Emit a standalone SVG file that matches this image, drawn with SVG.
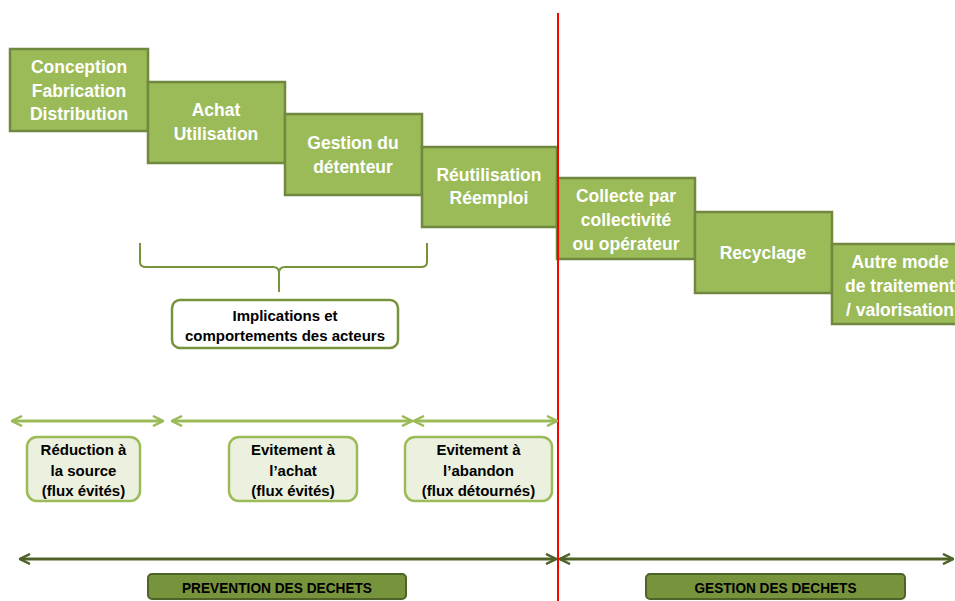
<svg xmlns="http://www.w3.org/2000/svg" width="955" height="601" viewBox="0 0 955 601">
<defs>
<style>
.step rect{fill:#9BBB59;stroke:#71893F;stroke-width:2.5}
.step text{fill:#fff;font-family:"Liberation Sans",Arial,sans-serif;font-weight:bold;font-size:17.5px;text-anchor:middle}
.act rect{fill:#EBF1DE;stroke:#9BBB59;stroke-width:2.5}
.act text,.impl text{fill:#000;font-family:"Liberation Sans",Arial,sans-serif;font-weight:bold;font-size:15px;text-anchor:middle}
.impl rect{fill:#fff;stroke:#77933C;stroke-width:2.5}
.cat rect{fill:#77933C;stroke:#4F6228;stroke-width:2}
.cat text{fill:#000;font-family:"Liberation Sans",Arial,sans-serif;font-weight:bold;font-size:15px;text-anchor:middle}
.lg{stroke:#9BBB59;stroke-width:3;fill:none}
.dg{stroke:#4F6228;stroke-width:3;fill:none}
</style>
<marker id="hl" viewBox="0 0 12 12" refX="11" refY="6" markerWidth="12" markerHeight="12" markerUnits="userSpaceOnUse" orient="auto-start-reverse">
<path d="M1,1 L11,6 L1,11" fill="none" stroke="#9BBB59" stroke-width="2.5"/>
</marker>
<marker id="hd" viewBox="0 0 12 12" refX="11" refY="6" markerWidth="12" markerHeight="12" markerUnits="userSpaceOnUse" orient="auto-start-reverse">
<path d="M1,1 L11,6 L1,11" fill="none" stroke="#4F6228" stroke-width="2.5"/>
</marker>
</defs>
<rect width="955" height="601" fill="#fff"/>

<g id="s1" class="step"><rect x="10" y="49" width="138" height="82"/>
<text x="79" y="73">Conception</text><text x="79" y="97">Fabrication</text><text x="79" y="120">Distribution</text></g>
<g id="s2" class="step"><rect x="148" y="82" width="137" height="81"/>
<text x="216" y="116">Achat</text><text x="216" y="140">Utilisation</text></g>
<g id="s3" class="step"><rect x="285" y="114" width="137" height="81"/>
<text x="353" y="149">Gestion du</text><text x="353" y="173">détenteur</text></g>
<g id="s4" class="step"><rect x="422" y="147" width="135" height="80"/>
<text x="489" y="181">Réutilisation</text><text x="489" y="204">Réemploi</text></g>
<g id="s5" class="step"><rect x="557" y="178" width="138" height="81"/>
<text x="626" y="202">Collecte par</text><text x="626" y="226">collectivité</text><text x="626" y="250">ou opérateur</text></g>
<g id="s6" class="step"><rect x="695" y="212" width="137" height="81"/>
<text x="763" y="259">Recyclage</text></g>
<g id="s7" class="step"><rect x="832" y="244" width="137" height="80"/>
<text x="900" y="268">Autre mode</text><text x="900" y="292">de traitement</text><text x="900" y="316">/ valorisation</text></g>

<g id="connectors">
<line x1="558" y1="13" x2="558" y2="601" stroke="#FF0000" stroke-width="2"/>
<path d="M140,243 L140,262 Q140,267 146,267 L273,267 Q279,267 279,273 L279,292 M279,273 Q279,267 285,267 L421,267 Q427,267 427,262 L427,243" stroke="#77933C" stroke-width="2" fill="none"/>
<line class="lg" x1="12" y1="421" x2="163" y2="421" marker-start="url(#hl)" marker-end="url(#hl)"/>
<line class="lg" x1="172" y1="421" x2="412" y2="421" marker-start="url(#hl)" marker-end="url(#hl)"/>
<line class="lg" x1="414" y1="421" x2="557" y2="421" marker-start="url(#hl)" marker-end="url(#hl)"/>
<line class="dg" x1="20" y1="559" x2="556" y2="559" marker-start="url(#hd)" marker-end="url(#hd)"/>
<line class="dg" x1="560" y1="559" x2="953" y2="559" marker-start="url(#hd)" marker-end="url(#hd)"/>
</g>

<g id="impl" class="impl"><rect x="172" y="300" width="226" height="48" rx="8"/>
<text x="285" y="321">Implications et</text><text x="285" y="341">comportements des acteurs</text></g>

<g id="a1" class="act"><rect x="27" y="437" width="113" height="64" rx="10"/>
<text x="83.5" y="455">Réduction à</text><text x="83.5" y="476">la source</text><text x="83.5" y="496">(flux évités)</text></g>
<g id="a2" class="act"><rect x="229" y="437" width="128" height="64" rx="10"/>
<text x="293" y="455">Evitement à</text><text x="293" y="476">l’achat</text><text x="293" y="496">(flux évités)</text></g>
<g id="a3" class="act"><rect x="405" y="437" width="147" height="64" rx="10"/>
<text x="478.5" y="455">Evitement à</text><text x="478.5" y="476">l’abandon</text><text x="478.5" y="496">(flux détournés)</text></g>

<g id="c1" class="cat"><rect x="148" y="574" width="258" height="25" rx="4"/>
<text x="277" y="592.5" textLength="190" lengthAdjust="spacingAndGlyphs">PREVENTION DES DECHETS</text></g>
<g id="c2" class="cat"><rect x="646" y="574" width="259" height="25" rx="4"/>
<text x="775.5" y="592.5" textLength="162" lengthAdjust="spacingAndGlyphs">GESTION DES DECHETS</text></g>
</svg>
